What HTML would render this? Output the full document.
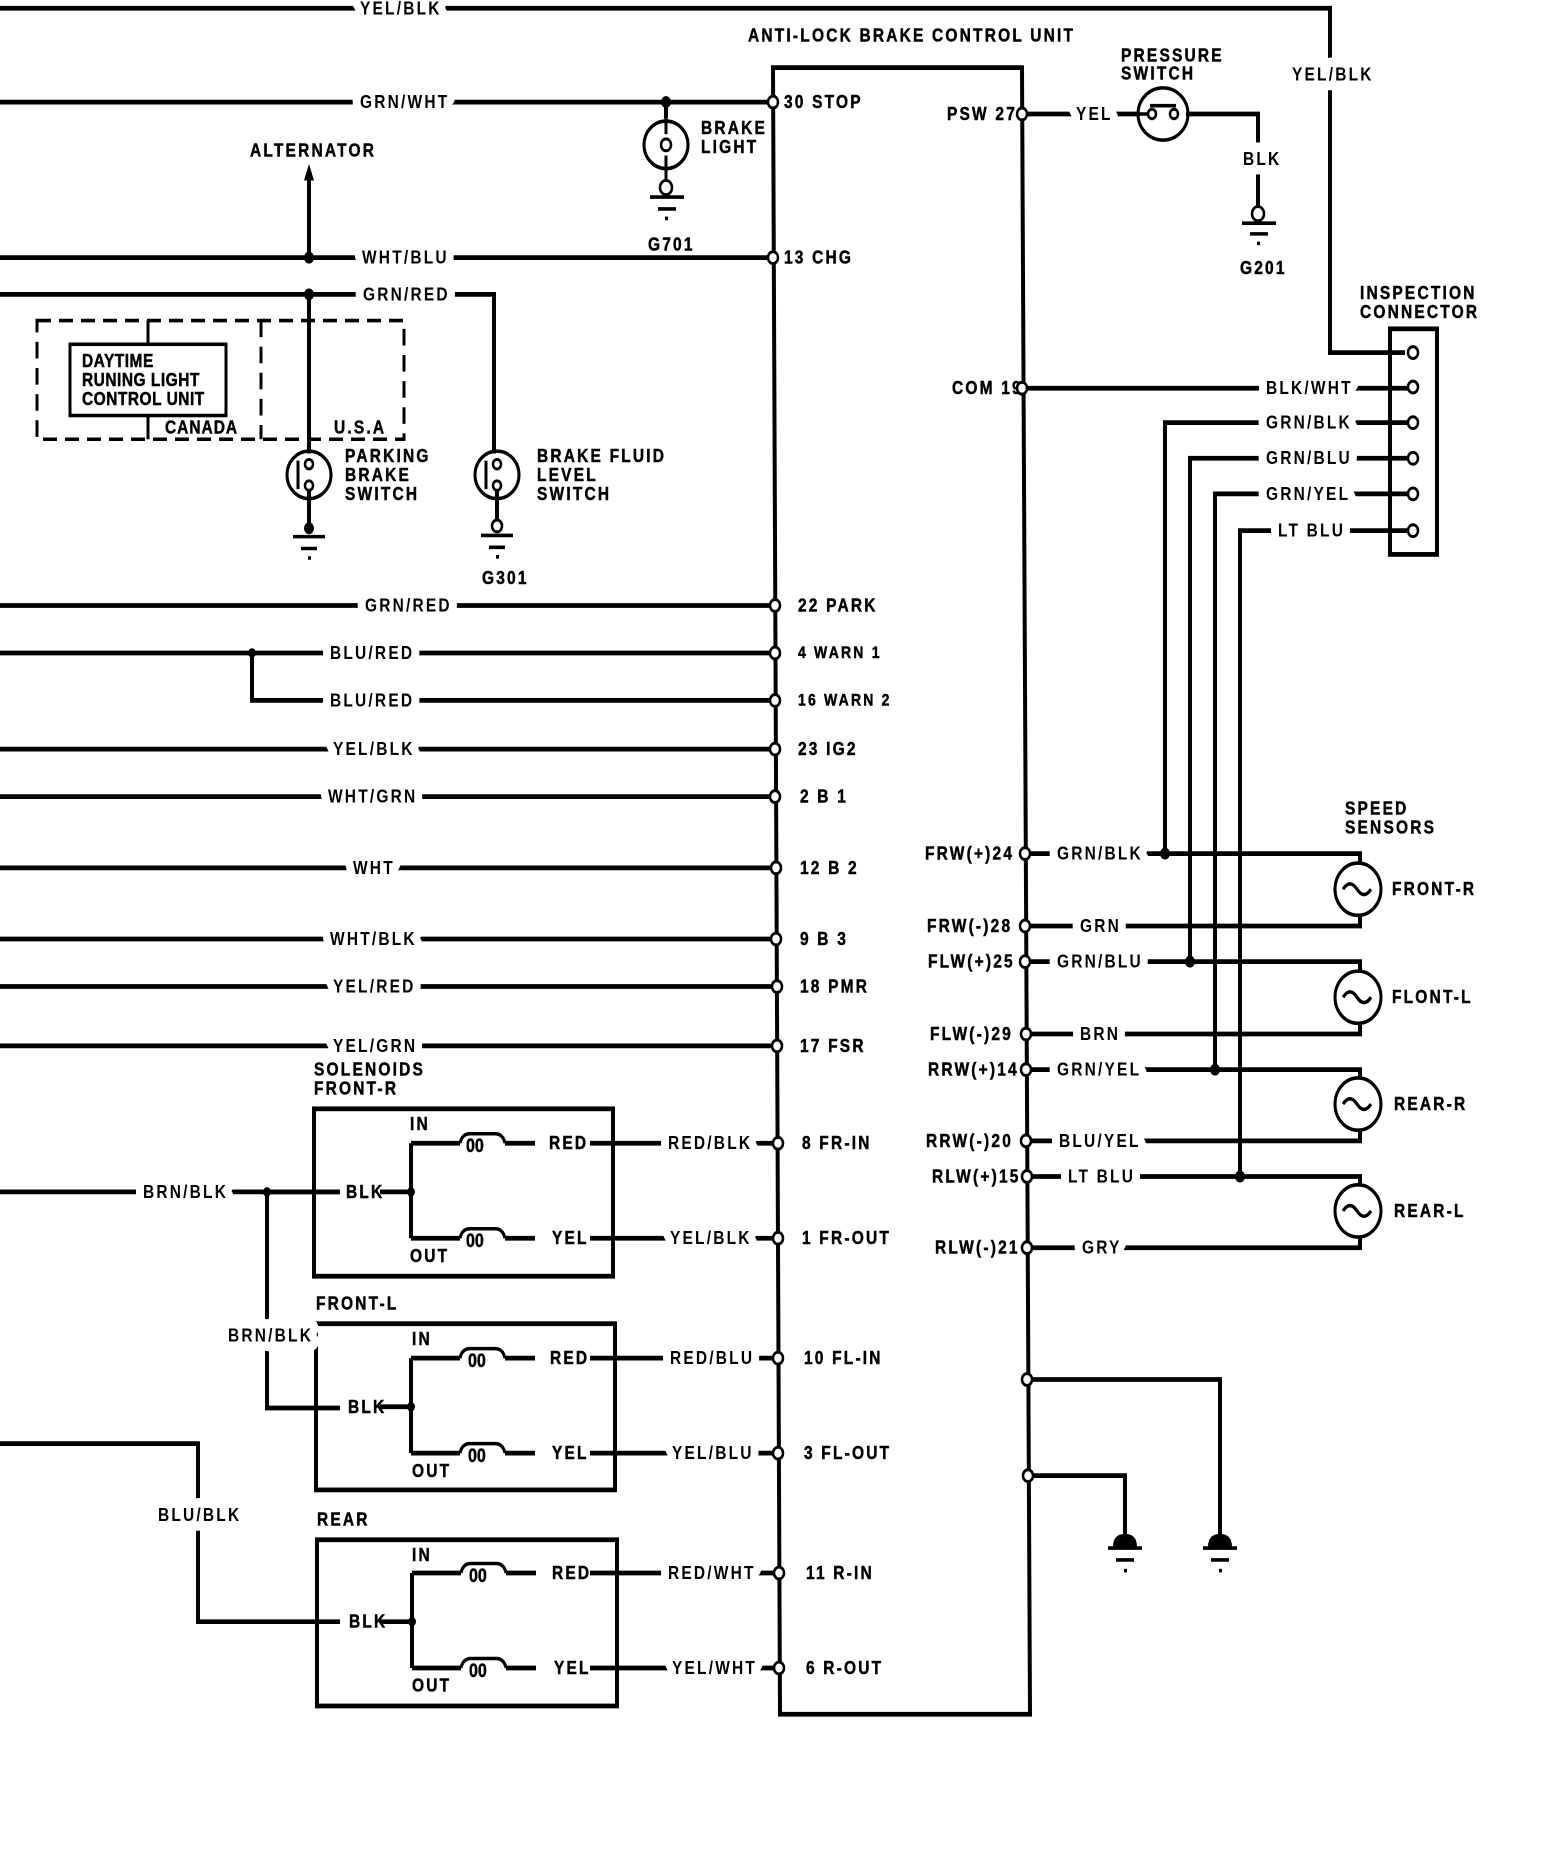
<!DOCTYPE html>
<html><head><meta charset="utf-8"><style>
html,body{margin:0;padding:0;background:#fff;}
svg{display:block}
text{font-family:"Liberation Sans",sans-serif;font-weight:bold;font-size:15.5px;letter-spacing:2.2px;fill:#000;stroke:#000;stroke-width:0.4px;dominant-baseline:central;}
.h{paint-order:stroke;stroke:#fff;stroke-width:16px;stroke-linejoin:round;}
.w{stroke:#000;stroke-width:4;fill:none;}
.t{stroke:#000;stroke-width:3;fill:none;}
.p{fill:#fff;stroke:#000;stroke-width:2.5;}
.c{font-size:16px;letter-spacing:0;}
</style></head><body>
<svg width="1568" height="1852" viewBox="0 0 1568 1560" preserveAspectRatio="none" xmlns="http://www.w3.org/2000/svg">
<path class="w" d="M0 7 H1330 V297 H1405"/>
<text class="h" x="360" y="7">YEL/BLK</text>
<text class="h" x="1292" y="63">YEL/BLK</text>
<path class="w" d="M773 57 H1022 L1030 1444 H780 Z"/>
<text x="748" y="30">ANTI-LOCK BRAKE CONTROL UNIT</text>

<path class="w" d="M0 86 H773"/><text class="h" x="360" y="86">GRN/WHT</text>
<circle cx="666" cy="86" r="5"/>
<path class="w" d="M666 86 V100"/>
<ellipse class="t" cx="666" cy="122" rx="22" ry="20"/>
<path class="t" d="M666 100 V113 M666 131 V158"/><circle class="p" cx="666" cy="122" r="5"/>
<circle class="p" cx="666" cy="158" r="6"/>
<path class="t" d="M650 166 H684 M658 176 H676 M665 184 H668"/>
<text x="648" y="206">G701</text>
<text x="701" y="108">BRAKE</text><text x="701" y="124">LIGHT</text>

<path class="w" d="M0 217 H773"/><text class="h" x="362" y="217">WHT/BLU</text>
<circle cx="309" cy="217" r="5"/>
<path class="w" d="M309 217 V150"/><path d="M304 152 L309 138 L314 152 Z"/>
<text x="250" y="127">ALTERNATOR</text>

<path class="w" d="M0 248 H494 V382"/><text class="h" x="363" y="248">GRN/RED</text>
<circle cx="309" cy="248" r="5"/>
<path class="w" d="M309 248 V382"/>
<path class="t" stroke-dasharray="14 8" d="M37 270 H404 V370 H37 Z M261 270 V370"/>
<rect class="t" x="70" y="290" width="156" height="60"/>
<path class="t" d="M148 270 V290 M148 350 V370"/>
<text x="82" y="304" style="letter-spacing:0.5px">DAYTIME</text>
<text x="82" y="320" style="letter-spacing:0.5px">RUNING LIGHT</text>
<text x="82" y="336" style="letter-spacing:0.5px">CONTROL UNIT</text>
<text x="165" y="360" style="letter-spacing:1px">CANADA</text>
<text x="334" y="360">U.S.A</text>
<ellipse class="t" cx="309" cy="400" rx="22" ry="20"/>
<path class="t" d="M298 388 V412"/>
<circle class="p" cx="309" cy="391" r="4"/><circle class="p" cx="309" cy="409" r="4"/>
<path class="w" d="M309 413 V445"/><circle cx="309" cy="445" r="5"/>
<path class="t" d="M293 452 H325 M301 462 H317 M308 470 H311"/>
<text x="345" y="384">PARKING</text><text x="345" y="400">BRAKE</text><text x="345" y="416">SWITCH</text>
<ellipse class="t" cx="497" cy="400" rx="22" ry="20"/>
<path class="t" d="M486 388 V412"/>
<circle class="p" cx="497" cy="391" r="4"/><circle class="p" cx="497" cy="409" r="4"/>
<path class="w" d="M497 413 V440"/><circle class="p" cx="497" cy="443" r="5"/>
<path class="t" d="M481 451 H513 M489 461 H505 M496 469 H499"/>
<text x="537" y="384">BRAKE FLUID</text><text x="537" y="400">LEVEL</text><text x="537" y="416">SWITCH</text>
<text x="482" y="487">G301</text>

<path class="w" d="M0 510 H775"/><text class="h" x="365" y="510">GRN/RED</text>
<path class="w" d="M0 550 H775 M252 550 V590 H775"/><circle cx="252" cy="550" r="4"/>
<text class="h" x="330" y="550">BLU/RED</text><text class="h" x="330" y="590">BLU/RED</text>
<path class="w" d="M0 631 H775"/><text class="h" x="333" y="631">YEL/BLK</text>
<path class="w" d="M0 671 H775"/><text class="h" x="328" y="671">WHT/GRN</text>
<path class="w" d="M0 731 H776"/><text class="h" x="353" y="731">WHT</text>
<path class="w" d="M0 791 H776"/><text class="h" x="330" y="791">WHT/BLK</text>
<path class="w" d="M0 831 H777"/><text class="h" x="333" y="831">YEL/RED</text>
<path class="w" d="M0 881 H777"/><text class="h" x="333" y="881">YEL/GRN</text>

<g>
<circle class="p" cx="773" cy="86" r="5"/><text x="784" y="86">30 STOP</text>
<circle class="p" cx="773" cy="217" r="5"/><text x="784" y="217">13 CHG</text>
<circle class="p" cx="775" cy="510" r="5"/><text x="798" y="510">22 PARK</text>
<circle class="p" cx="775" cy="550" r="5"/><text x="798" y="550" style="font-size:14px">4 WARN 1</text>
<circle class="p" cx="775" cy="590" r="5"/><text x="798" y="590" style="font-size:14px">16 WARN 2</text>
<circle class="p" cx="775" cy="631" r="5"/><text x="798" y="631">23 IG2</text>
<circle class="p" cx="775" cy="671" r="5"/><text x="800" y="671">2 B 1</text>
<circle class="p" cx="776" cy="731" r="5"/><text x="800" y="731">12 B 2</text>
<circle class="p" cx="776" cy="791" r="5"/><text x="800" y="791">9 B 3</text>
<circle class="p" cx="777" cy="831" r="5"/><text x="800" y="831">18 PMR</text>
<circle class="p" cx="777" cy="881" r="5"/><text x="800" y="881">17 FSR</text>
</g>

<text x="314" y="901">SOLENOIDS</text><text x="314" y="917">FRONT-R</text>
<text x="316" y="1098">FRONT-L</text>
<text x="317" y="1280">REAR</text>
<rect class="w" x="314" y="934" width="299" height="141"/>
<text x="410" y="947">IN</text><text x="410" y="1058">OUT</text>
<path class="w" d="M262 1004 H340 M380 1004 H411 M411 963 V1043 M411 963 H460 M505 963 H535 M411 1043 H460 M505 1043 H535"/>
<path class="t" d="M460 963 Q462 955 470 955 H495 Q503 955 505 963 M460 1043 Q462 1035 470 1035 H495 Q503 1035 505 1043"/>
<text class="c" x="466" y="965">00</text><text class="c" x="466" y="1045">00</text>
<circle cx="411" cy="1004" r="4"/>
<text x="346" y="1004">BLK</text>
<text x="549" y="963">RED</text><text x="552" y="1043">YEL</text>
<path class="w" d="M590 963 H778 M590 1043 H778"/>
<text class="h" x="668" y="963">RED/BLK</text><text class="h" x="670" y="1043">YEL/BLK</text>
<circle class="p" cx="778" cy="963" r="5"/><text x="802" y="963">8 FR-IN</text>
<circle class="p" cx="778" cy="1043" r="5"/><text x="802" y="1043">1 FR-OUT</text>

<rect class="w" x="316" y="1115" width="299" height="140"/>
<text x="412" y="1128">IN</text><text x="412" y="1239">OUT</text>
<path class="w" d="M380 1185 H411 M411 1144 V1224 M411 1144 H460 M505 1144 H535 M411 1224 H460 M505 1224 H535"/>
<path class="t" d="M460 1144 Q462 1136 470 1136 H495 Q503 1136 505 1144 M460 1224 Q462 1216 470 1216 H495 Q503 1216 505 1224"/>
<text class="c" x="468" y="1146">00</text><text class="c" x="468" y="1226">00</text>
<circle cx="411" cy="1185" r="4"/><text x="348" y="1185">BLK</text>
<text x="550" y="1144">RED</text><text x="552" y="1224">YEL</text>
<path class="w" d="M590 1144 H778 M590 1224 H778"/>
<text class="h" x="670" y="1144">RED/BLU</text><text class="h" x="672" y="1224">YEL/BLU</text>
<circle class="p" cx="778" cy="1144" r="5"/><text x="804" y="1144">10 FL-IN</text>
<circle class="p" cx="778" cy="1224" r="5"/><text x="804" y="1224">3 FL-OUT</text>

<rect class="w" x="317" y="1297" width="300" height="140"/>
<text x="412" y="1310">IN</text><text x="412" y="1420">OUT</text>
<path class="w" d="M380 1366 H412 M412 1325 V1405 M412 1325 H461 M506 1325 H536 M412 1405 H461 M506 1405 H536"/>
<path class="t" d="M461 1325 Q463 1317 471 1317 H496 Q504 1317 506 1325 M461 1405 Q463 1397 471 1397 H496 Q504 1397 506 1405"/>
<text class="c" x="469" y="1327">00</text><text class="c" x="469" y="1407">00</text>
<circle cx="412" cy="1366" r="4"/><text x="349" y="1366">BLK</text>
<text x="552" y="1325">RED</text><text x="554" y="1405">YEL</text>
<path class="w" d="M590 1325 H779 M590 1405 H779"/>
<text class="h" x="668" y="1325">RED/WHT</text><text class="h" x="672" y="1405">YEL/WHT</text>
<circle class="p" cx="779" cy="1325" r="5"/><text x="806" y="1325">11 R-IN</text>
<circle class="p" cx="779" cy="1405" r="5"/><text x="806" y="1405">6 R-OUT</text>

<path class="w" d="M0 1004 H340 M267 1004 V1186 H340"/><circle cx="267" cy="1004" r="4"/>
<text class="h" x="143" y="1004">BRN/BLK</text><text class="h" x="228" y="1125">BRN/BLK</text>
<path class="w" d="M0 1216 H198 V1366 H340"/><text class="h" x="158" y="1276">BLU/BLK</text>

<path class="w" d="M1022 96 H1140 M1186 96 H1258 V180"/>
<text x="947" y="96">PSW 27</text><text class="h" x="1076" y="96">YEL</text>
<ellipse class="t" cx="1163" cy="96" rx="25" ry="22"/>
<path class="t" d="M1150 96 H1138 M1150 89 H1176"/><circle class="p" cx="1152" cy="96" r="4"/><circle class="p" cx="1174" cy="96" r="4"/>
<text x="1121" y="47">PRESSURE</text><text x="1121" y="62">SWITCH</text>
<text class="h" x="1243" y="134">BLK</text>
<circle class="p" cx="1258" cy="180" r="6"/>
<path class="t" d="M1242 188 H1276 M1250 197 H1268 M1257 205 H1260"/>
<text x="1240" y="226">G201</text>

<text x="952" y="327">COM 19</text>
<path class="w" d="M1022 327 H1413"/><text class="h" x="1266" y="327">BLK/WHT</text>
<path class="w" d="M1165 719 V356 H1413 M1190 810 V386 H1413 M1215 901 V416 H1413 M1240 991 V447 H1413"/>
<text class="h" x="1266" y="356">GRN/BLK</text><text class="h" x="1266" y="386">GRN/BLU</text>
<text class="h" x="1266" y="416">GRN/YEL</text><text class="h" x="1278" y="447">LT BLU</text>
<rect class="w" x="1390" y="277" width="47" height="190"/>
<g class="p"><circle cx="1413" cy="297" r="5"/><circle cx="1413" cy="326" r="5"/><circle cx="1413" cy="356" r="5"/><circle cx="1413" cy="386" r="5"/><circle cx="1413" cy="416" r="5"/><circle cx="1413" cy="447" r="5"/></g>
<text x="1360" y="247">INSPECTION</text><text x="1360" y="263">CONNECTOR</text>

<text x="1345" y="681">SPEED</text><text x="1345" y="697">SENSORS</text>
<path class="w" d="M1022 719 H1360 V728 M1022 780 H1360 V770 M1022 810 H1360 V819 M1022 871 H1360 V861 M1022 901 H1360 V909 M1022 961 H1360 V952 M1022 991 H1360 V999 M1022 1051 H1360 V1042"/>
<g class="t"><ellipse cx="1358" cy="749" rx="23" ry="22"/><ellipse cx="1358" cy="840" rx="23" ry="22"/><ellipse cx="1358" cy="930" rx="23" ry="22"/><ellipse cx="1358" cy="1020" rx="23" ry="22"/>
<path d="M1343 749 q7 -9 14 0 t14 0 M1343 840 q7 -9 14 0 t14 0 M1343 930 q7 -9 14 0 t14 0 M1343 1020 q7 -9 14 0 t14 0"/></g>
<text x="1392" y="749">FRONT-R</text><text x="1392" y="840">FLONT-L</text><text x="1394" y="930">REAR-R</text><text x="1394" y="1020">REAR-L</text>
<g><circle cx="1165" cy="719" r="5"/><circle cx="1190" cy="810" r="5"/><circle cx="1215" cy="901" r="5"/><circle cx="1240" cy="991" r="5"/></g>
<text class="h" x="1057" y="719">GRN/BLK</text><text class="h" x="1080" y="780">GRN</text>
<text class="h" x="1057" y="810">GRN/BLU</text><text class="h" x="1080" y="871">BRN</text>
<text class="h" x="1057" y="901">GRN/YEL</text><text class="h" x="1059" y="961">BLU/YEL</text>
<text class="h" x="1068" y="991">LT BLU</text><text class="h" x="1082" y="1051">GRY</text>
<g style="letter-spacing:1.5px">
<text x="925" y="719">FRW(+)24</text><text x="927" y="780">FRW(-)28</text><text x="928" y="810">FLW(+)25</text>
<text x="930" y="871">FLW(-)29</text><text x="928" y="901">RRW(+)14</text><text x="926" y="961">RRW(-)20</text>
<text x="932" y="991">RLW(+)15</text><text x="935" y="1051">RLW(-)21</text></g>
<g class="p"><circle cx="1022" cy="96" r="5"/><circle cx="1022" cy="327" r="5"/>
<circle cx="1025" cy="719" r="5"/><circle cx="1025" cy="780" r="5"/><circle cx="1025" cy="810" r="5"/><circle cx="1026" cy="871" r="5"/>
<circle cx="1026" cy="901" r="5"/><circle cx="1026" cy="961" r="5"/><circle cx="1027" cy="991" r="5"/><circle cx="1027" cy="1051" r="5"/></g>
<path class="w" d="M1027 1162 H1220 V1296 M1027 1243 H1125 V1296"/>
<path d="M1113 1303 Q1113 1292 1125 1292 Q1137 1292 1137 1303 Z M1208 1303 Q1208 1292 1220 1292 Q1232 1292 1232 1303 Z"/>
<path class="t" d="M1108 1304 H1142 M1116 1314 H1134 M1124 1323 H1127 M1203 1304 H1237 M1211 1314 H1229 M1219 1323 H1222"/>
<circle class="p" cx="1027" cy="1162" r="5"/><circle class="p" cx="1028" cy="1243" r="5"/>
</svg>
</body></html>
